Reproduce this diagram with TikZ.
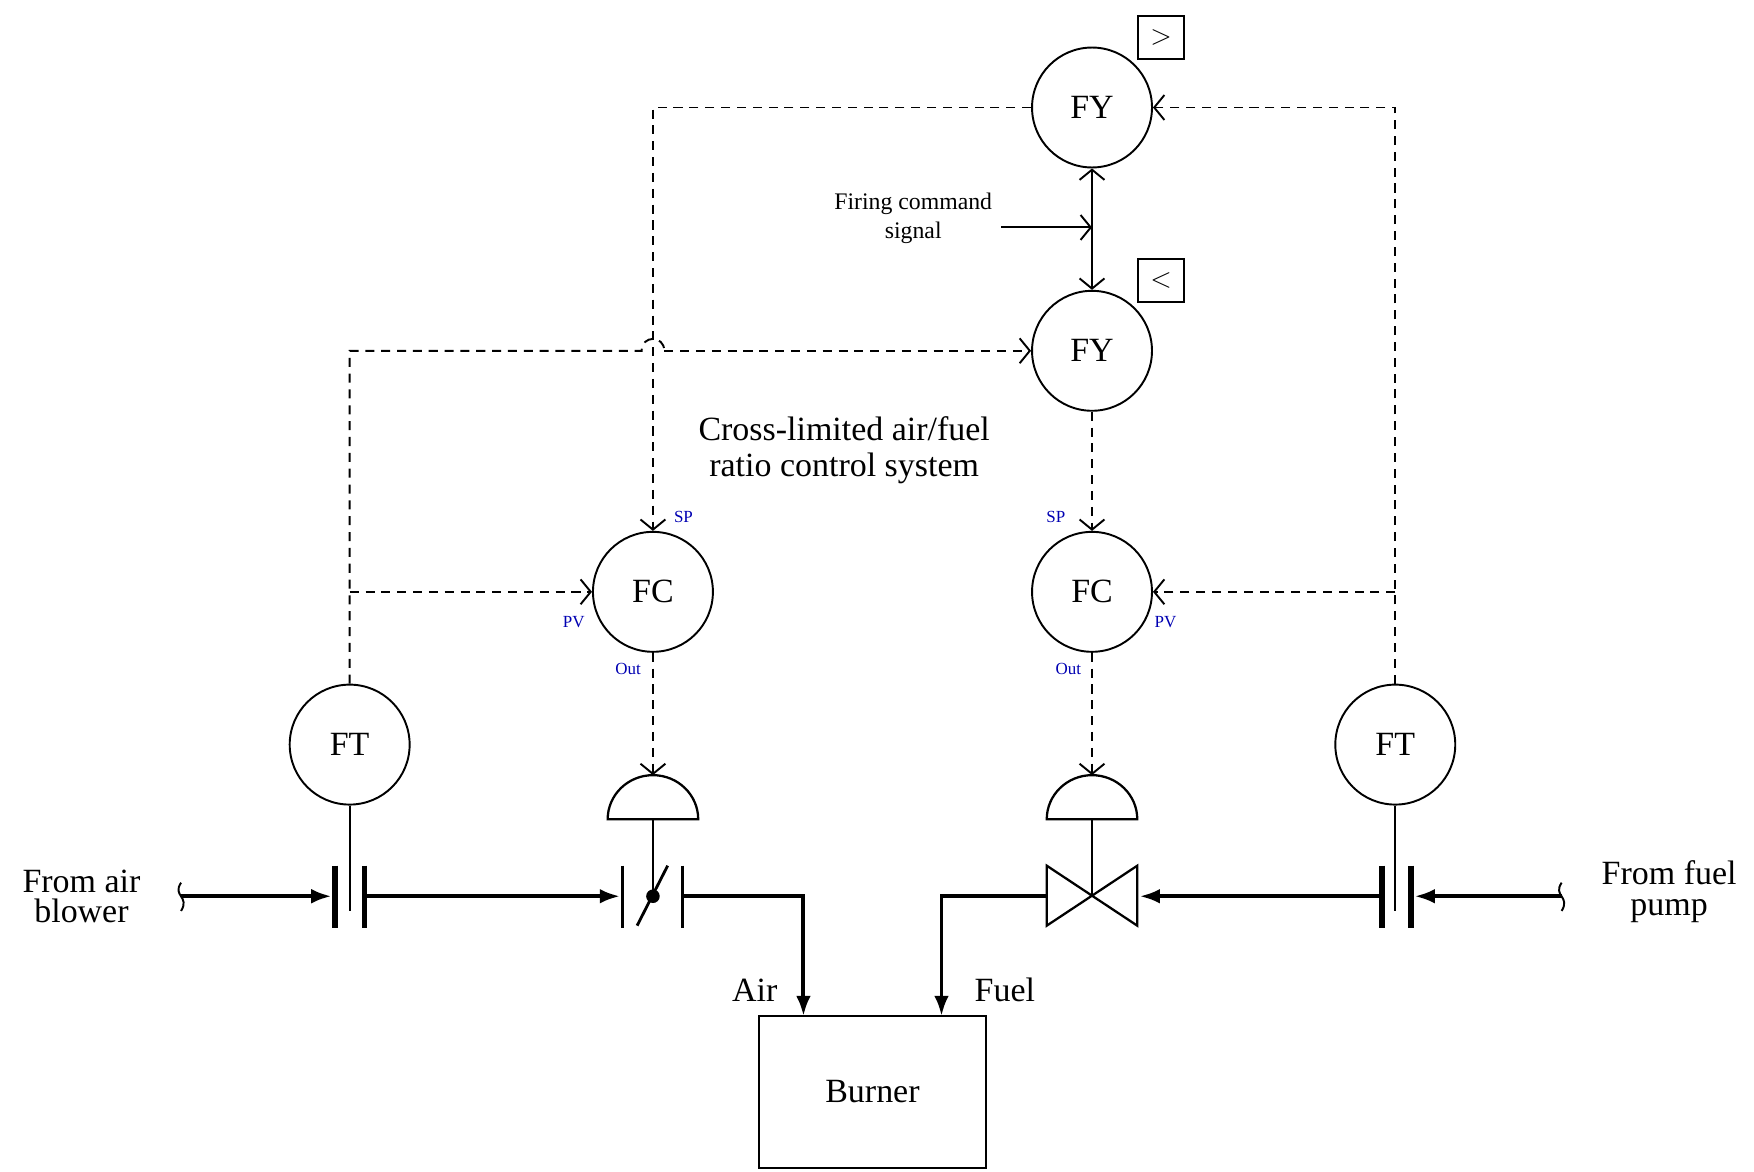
\documentclass[tikz,border=0pt]{standalone}
\usepackage{fontspec}
\setmainfont{Liberation Serif}
\usetikzlibrary{arrows.meta}
\begin{document}
\begin{tikzpicture}[x=1pt,y=-1pt,
  inst/.style={circle,draw,line width=1.7pt,minimum size=106pt,inner sep=0,font=\fontsize{30}{30}\selectfont},
  sig/.style={line width=1.7pt,dash pattern=on 8pt off 6pt,-{Straight Barb[length=9pt,width=22pt,line width=1.7pt]}},
  sol/.style={line width=1.7pt},
  pipe/.style={line width=3.5pt},
  pa/.style={-{Latex[length=18pt,width=13pt]}},
  plate/.style={line width=5pt},
  lbl/.style={font=\fontsize{15}{15}\selectfont,text=blue!70!black},
  big/.style={font=\fontsize{30}{32}\selectfont,align=center}]
\useasboundingbox (0,0) rectangle (1550,1035);
\node[inst] (fy1) at (965,95) {FY};
\node[inst] (fy2) at (965,310) {FY};
\node[inst] (fc1) at (577,523) {FC};
\node[inst] (fc2) at (965,523) {FC};
\node[inst] (ft1) at (309,658) {FT};
\node[inst] (ft2) at (1233,658) {FT};
\node[draw,line width=1.7pt,minimum width=40pt,minimum height=38pt,font=\fontsize{28}{28}\selectfont] (gt) at (1026,33) {$>$};
\node[draw,line width=1.7pt,minimum width=40pt,minimum height=38pt,font=\fontsize{28}{28}\selectfont] (lt) at (1026,248) {$<$};
\node[draw,line width=1.7pt,minimum width=201pt,minimum height=134pt,font=\fontsize{30}{30}\selectfont] (burner) at (771,965) {Burner};
% actuators
\draw[line width=2pt] (537,724) arc[start angle=180,end angle=360,x radius=40,y radius=39] -- cycle;
\draw[line width=2pt] (925,724) arc[start angle=180,end angle=360,x radius=40,y radius=39] -- cycle;
\coordinate (a1) at (577,685); \coordinate (a2) at (965,685);
\draw[sol] (577,724) -- (577,792);
\draw[sol] (965,724) -- (965,792);
% squiggles
\coordinate (sq1) at (160,792); \coordinate (sq2) at (1380,792);
\draw[line width=1.7pt] (160,780) .. controls (152,792) and (168,792) .. (160,805);
\draw[line width=1.7pt] (1380,780) .. controls (1372,792) and (1388,792) .. (1380,805);
% left pipe
\draw[pipe,pa] (sq1) -- (293,792);
\draw[plate] (296,765) -- (296,820); \draw[plate] (322,765) -- (322,820);
\draw[sol] (ft1.south) -- (309,805);
\draw[pipe,pa] (322,792) -- (548,792);
\draw[line width=2pt] (550,765) -- (550,820); \draw[line width=2pt] (603,765) -- (603,820);
\draw[line width=2.5pt] (563,818) -- (590,765);
\fill (577,792) circle (6pt);
\draw[pipe,pa] (603,792) -- (710,792) -- (710,898);
% right pipe
\draw[pipe,pa] (sq2) -- (1250,792);
\draw[plate] (1221,765) -- (1221,820); \draw[plate] (1247,765) -- (1247,820);
\draw[sol] (ft2.south) -- (1233,805);
\draw[pipe,pa] (1221,792) -- (1007,792);
\draw[line width=2pt] (925,765) -- (1005,818) -- (1005,765) -- (925,818) -- cycle;
\draw[pipe,pa] (925,792) -- (832,792) -- (832,898);
% signals
\draw[sig] (fy1.west) -- (577,95) -- (fc1.north);
\draw[sig] (ft2.north) -- (1233,95) -- (fy1.east);
\draw[sig] (1233,523) -- (fc2.east);
\draw[line width=1.7pt,dash pattern=on 8pt off 6pt] (ft1.north) -- (309,310) -- (567,310) .. controls (567,296) and (587,296) .. (587,310);
\draw[sig] (587,310) -- (fy2.west);
\draw[sig] (309,523) -- (fc1.west);
\draw[sig] (fy2.south) -- (fc2.north);
\draw[sig] (fc1.south) -- (a1);
\draw[sig] (fc2.south) -- (a2);
\draw[sol,{Straight Barb[length=9pt,width=22pt,line width=1.7pt]}-{Straight Barb[length=9pt,width=22pt,line width=1.7pt]}] (fy1.south) -- (fy2.north);
\coordinate (fcs) at (885,201);
\draw[sol,-{Straight Barb[length=9pt,width=22pt,line width=1.7pt]}] (fcs) -- (965,201);
% labels
\node[lbl] (sp1) at (604,457) {SP};
\node[lbl] (pv1) at (507,550) {PV};
\node[lbl] (o1) at (555,591) {Out};
\node[lbl] (sp2) at (933,457) {SP};
\node[lbl] (pv2) at (1030,550) {PV};
\node[lbl] (o2) at (944,591) {Out};
\node[big] (title) at (746,398) {Cross-limited air/fuel\\ratio control system};
\node[font=\fontsize{21}{26}\selectfont,align=center] (fire) at (807,193) {Firing command\\signal};
\node[big,font=\fontsize{30}{27}\selectfont] (air) at (72,792) {From air\\blower};
\node[big,font=\fontsize{30}{27}\selectfont] (fuel) at (1475,788) {From fuel\\pump};
\node[big] (airl) at (667,875) {Air};
\node[big] (fuell) at (888,875) {Fuel};
\end{tikzpicture}
\end{document}
